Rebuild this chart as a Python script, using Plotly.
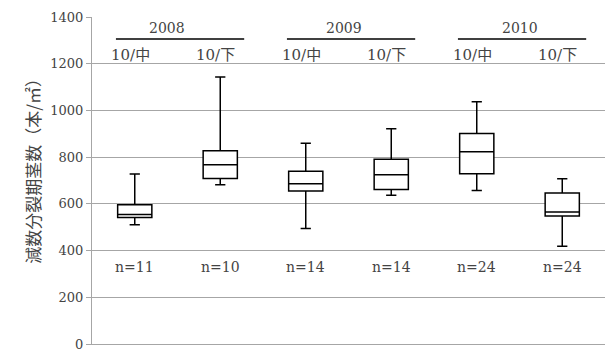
import plotly.graph_objects as go

categories = ["2008 10/中", "2008 10/下", "2009 10/中", "2009 10/下", "2010 10/中", "2010 10/下"]
period_labels = ["10/中", "10/下", "10/中", "10/下", "10/中", "10/下"]
years = ["2008", "2009", "2010"]
n_labels = ["n=11", "n=10", "n=14", "n=14", "n=24", "n=24"]

upper = [728, 1143, 860, 922, 1037, 708]
q3 = [596, 827, 740, 791, 901, 646]
median = [554, 767, 686, 725, 823, 565]
q1 = [542, 709, 655, 661, 729, 548]
lower = [511, 682, 494, 637, 657, 418]

y_ticks = [0, 200, 400, 600, 800, 1000, 1200, 1400]

FONT = "DejaVu Serif, Noto Sans CJK JP, serif"
TXT = "#444444"
GRID = "#a6a6a6"
FS = 13
xs = list(range(len(categories)))

fig = go.Figure()
fig.add_trace(go.Box(
    x=xs, q1=q1, median=median, q3=q3, lowerfence=lower, upperfence=upper,
    fillcolor="white", line=dict(color="black", width=1.5),
    width=0.4, whiskerwidth=0.3, boxpoints=False, showlegend=False,
    hoverinfo="skip",
))

anns = []
for i, t in enumerate(n_labels):
    anns.append(dict(x=xs[i], y=328, text=t, showarrow=False, xref="x", yref="y",
                     font=dict(family=FONT, size=FS + 1, color=TXT)))
for i, t in enumerate(period_labels):
    anns.append(dict(x=xs[i] - 0.05, y=1238, text=t, showarrow=False, xref="x", yref="y",
                     font=dict(family=FONT, size=FS + 2, color=TXT)))
year_x = [0.38, 2.45, 4.5]
shapes = []
for k, yr in enumerate(years):
    anns.append(dict(x=year_x[k], y=1355, text=yr, showarrow=False, xref="x", yref="y",
                     font=dict(family=FONT, size=FS + 1, color=TXT)))
    x0 = xs[2 * k] - 0.22
    shapes.append(dict(type="line", xref="x", yref="y", x0=x0, x1=x0 + 1.5,
                       y0=1306, y1=1306, line=dict(color="black", width=1.5)))

anns.append(dict(x=-0.146, y=0.541, xref="paper", yref="paper", text="減数分裂期茎数（本/㎡）",
                 textangle=-90, showarrow=False,
                 font=dict(family="Noto Sans CJK JP", size=17, color=TXT)))

fig.update_layout(
    width=605, height=352,
    margin=dict(l=92, r=0, t=17, b=6),
    paper_bgcolor="white", plot_bgcolor="white",
    annotations=anns, shapes=shapes,
    font=dict(family=FONT, color=TXT),
)
fig.update_xaxes(range=[-0.5, 5.5], showticklabels=False, showgrid=False, zeroline=False,
                 showline=True, linecolor=GRID, linewidth=1, ticks="")
fig.update_yaxes(range=[0, 1400], tickvals=y_ticks, showgrid=True, gridcolor=GRID,
                 gridwidth=1, zeroline=False, showline=True, linecolor=GRID, linewidth=1,
                 ticks="outside", ticklen=5, tickcolor=GRID, ticklabeloverflow="allow",
                 tickfont=dict(family=FONT, size=FS, color=TXT))

fig.write_html("out.html")
